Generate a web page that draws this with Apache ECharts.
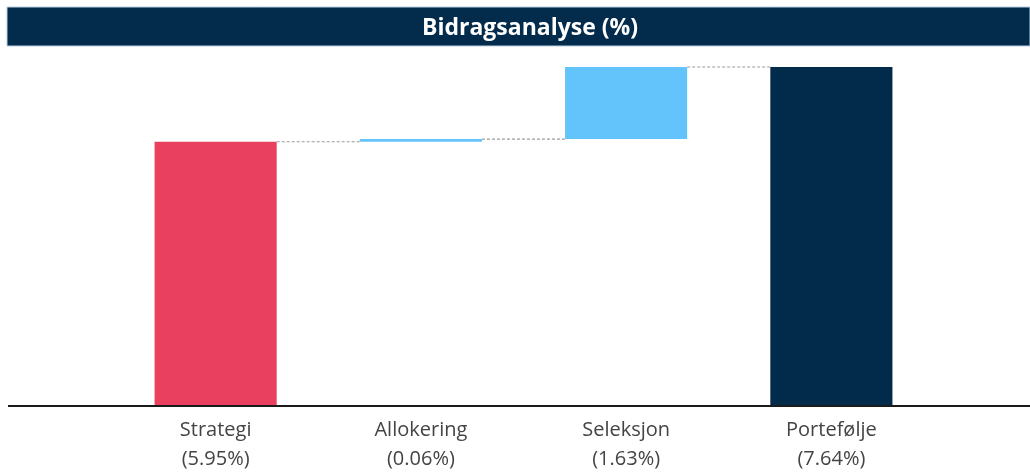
<!DOCTYPE html>
<html>
<head>
<meta charset="utf-8">
<script src="https://cdn.jsdelivr.net/npm/echarts@6/dist/echarts.min.js"></script>
<style>
html,body{margin:0;padding:0;background:#fff;}
#chart{width:1030px;height:474px;}
</style>
</head>
<body>
<div id="chart"></div>
<script>
// Data
const categories = ['Strategi', 'Allokering', 'Seleksjon', 'Portefølje'];
const values = [5.95, 0.06, 1.63, 7.64];
const isTotal = [true, false, false, true];
const colors = ['#e8405e', '#63c3fb', '#63c3fb', '#022b4b'];
const titleText = 'Bidragsanalyse (%)';

// Build waterfall bases and connector levels
const bases = [];
const ends = [];
let running = 0;
values.forEach((v, i) => {
  if (isTotal[i]) { bases.push(0); running = v; }
  else { bases.push(running); running += v; }
  ends.push(+running.toFixed(4));
});
const connectorData = [];
for (let i = 0; i < categories.length - 1; i++) connectorData.push([i, ends[i]]);

const BAR_W = 0.595;
const chart = echarts.init(document.getElementById('chart'));
chart.setOption({
  animation: false,
  title: {
    text: titleText,
    left: 525, top: 12, textAlign: 'center',
    textStyle: { color: '#ffffff', fontSize: 23, fontWeight: 'bold', fontFamily: 'Open Sans' }
  },
  graphic: [
    { type: 'rect', z: -1, shape: { x: 7, y: 7, width: 1023, height: 39 },
      style: { fill: '#032b4b', stroke: '#b9cfe3', lineWidth: 1 } },
    { type: 'line', z: 10, shape: { x1: 8, y1: 406, x2: 1030, y2: 406 },
      style: { stroke: '#1a1a1a', lineWidth: 2 } }
  ],
  grid: { left: 113, right: 96, top: 67, bottom: 68 },
  xAxis: {
    type: 'category',
    data: categories,
    axisLine: { show: false },
    axisTick: { show: false },
    axisLabel: {
      margin: 11,
      fontSize: 20,
      lineHeight: 29,
      color: '#444444',
      fontFamily: 'Open Sans',
      formatter: (v, i) => v + '\n(' + values[i].toFixed(2) + '%)'
    }
  },
  yAxis: {
    type: 'value', min: 0, max: 7.64,
    show: false,
    splitLine: { show: false }
  },
  series: [
    {
      type: 'bar', stack: 'wf', barWidth: (BAR_W * 100) + '%',
      itemStyle: { color: 'transparent' },
      data: bases, silent: true
    },
    {
      type: 'bar', stack: 'wf', barWidth: (BAR_W * 100) + '%',
      data: values.map((v, i) => ({ value: v, itemStyle: { color: colors[i] } }))
    },
    {
      type: 'custom',
      data: connectorData,
      renderItem: (params, api) => {
        const i = api.value(0);
        const lvl = api.value(1);
        const p1 = api.coord([i, lvl]);
        const p2 = api.coord([i + 1, lvl]);
        const bw = api.size([1, 0])[0] * BAR_W;
        return {
          type: 'line',
          shape: { x1: p1[0] + bw / 2, y1: p1[1], x2: p2[0] - bw / 2, y2: p2[1] },
          style: { stroke: '#9a9a9a', lineWidth: 1.2, lineDash: [3, 2] }
        };
      },
      z: 5
    }
  ]
});
</script>
</body>
</html>
